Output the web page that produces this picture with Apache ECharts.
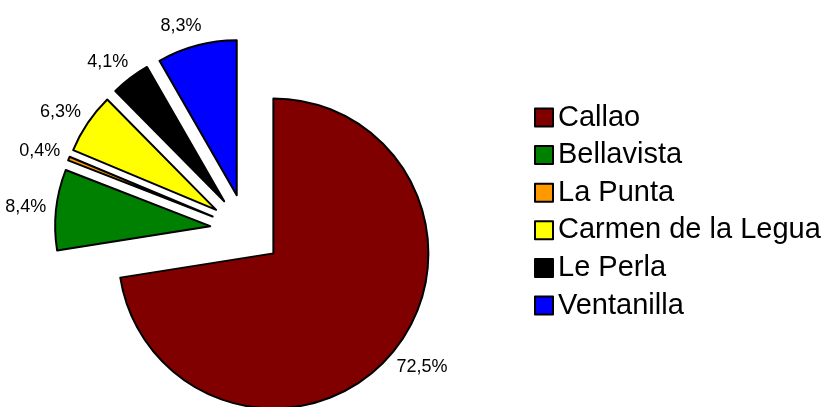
<!DOCTYPE html>
<html>
<head>
<meta charset="utf-8">
<script src="https://cdn.jsdelivr.net/npm/echarts@6/dist/echarts.min.js"></script>
<style>
  html, body { margin: 0; padding: 0; background: #fff; }
  #chart { width: 824px; height: 407px; }
</style>
</head>
<body>
<div id="chart"></div>
<script>
var districts = ['Callao', 'Bellavista', 'La Punta', 'Carmen de la Legua', 'Le Perla', 'Ventanilla'];
var shares = [72.5, 8.4, 0.4, 6.3, 4.1, 8.3];
var sliceColors = ['#800000', '#008000', '#FF9900', '#FFFF00', '#000000', '#0000FF'];

var pieData = [];
for (var i = 0; i < districts.length; i++) {
	pieData.push({
		name: districts[i],
		value: shares[i],
		selected: true,
		itemStyle: { color: sliceColors[i] }
	});
}

var chart = echarts.init(document.getElementById('chart'), null, { renderer: 'canvas' });
var option = {
	animation: false,
	backgroundColor: '#fff',
	legend: {
		orient: 'vertical',
		left: 529,
		top: 98,
		itemWidth: 18,
		itemHeight: 18,
		itemGap: 8.6,
		icon: 'rect',
		selectedMode: false,
		itemStyle: { borderColor: '#000', borderWidth: 2 },
		textStyle: {
			fontFamily: 'Liberation Sans, Arial, sans-serif',
			fontSize: 29,
			lineHeight: 29,
			color: '#000'
		},
		data: districts
	},
	series: [{
		type: 'pie',
		center: [246, 230],
		radius: 155,
		startAngle: 90,
		clockwise: true,
		selectedMode: 'multiple',
		selectedOffset: 36,
		avoidLabelOverlap: false,
		itemStyle: { borderColor: '#000', borderWidth: 2 },
		select: { itemStyle: { borderColor: '#000', borderWidth: 2 } },
		emphasis: { disabled: true },
		label: {
			show: true,
			position: 'outside',
			distanceToLabelLine: -10,
			fontFamily: 'Liberation Sans, Arial, sans-serif',
			fontSize: 18,
			color: '#000',
			formatter: function(p) {
				return p.value.toFixed(1).replace('.', ',') + '%';
			}
		},
		labelLine: { show: false, length: 20, length2: 0 },
		data: pieData
	}]
};
chart.setOption(option);
</script>
</body>
</html>
